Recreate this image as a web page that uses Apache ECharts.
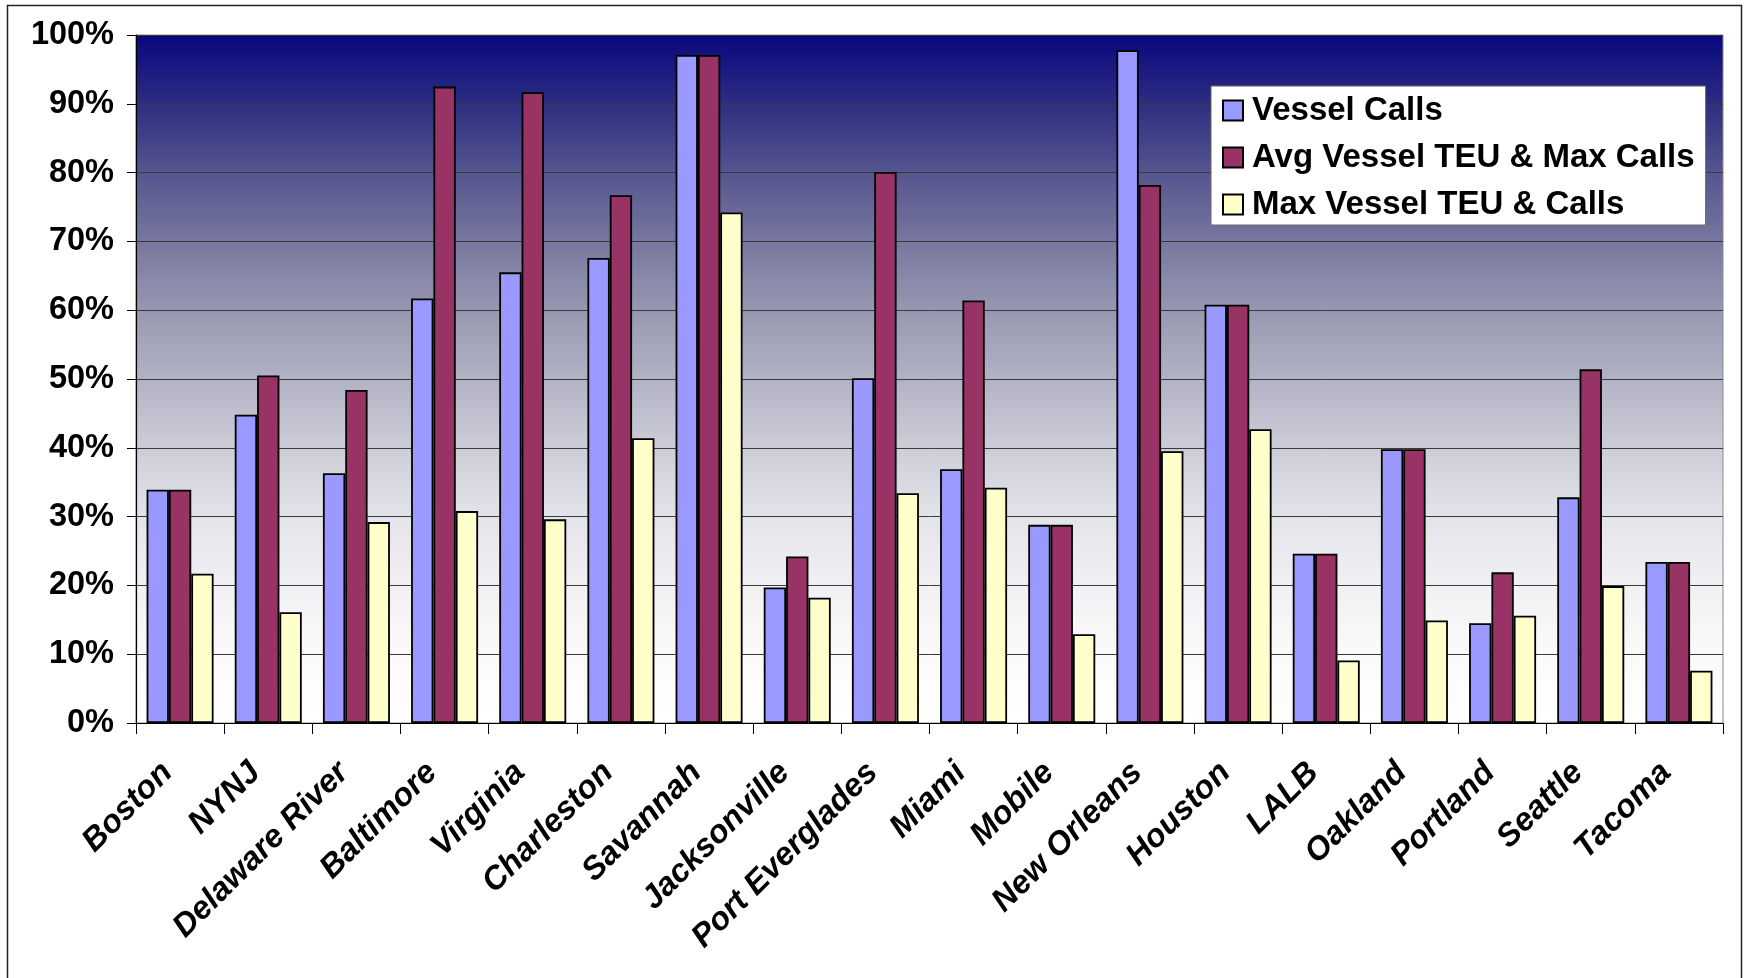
<!DOCTYPE html>
<html>
<head>
<meta charset="utf-8">
<title>Port shares</title>
<script src="https://cdn.jsdelivr.net/npm/echarts@6/dist/echarts.min.js"></script>
<style>
  html, body { margin: 0; padding: 0; background: #ffffff; }
  #chart { width: 1753px; height: 978px; }
</style>
</head>
<body>
<div id="chart"></div>
<script>
// Ports along the x axis
const ports = ['Boston', 'NYNJ', 'Delaware River', 'Baltimore', 'Virginia', 'Charleston',
  'Savannah', 'Jacksonville', 'Port Everglades', 'Miami', 'Mobile', 'New Orleans',
  'Houston', 'LALB', 'Oakland', 'Portland', 'Seattle', 'Tacoma'];

// Share per port, in percent
const vesselCalls = [33.9, 44.8, 36.3, 61.7, 65.5, 67.6, 97.1, 19.7, 50.1, 36.9, 28.8, 97.8,
  60.8, 24.6, 39.8, 14.5, 32.8, 23.4];
const avgTeuMaxCalls = [33.9, 50.5, 48.4, 92.5, 91.7, 76.7, 97.1, 24.2, 80.1, 61.4, 28.8, 78.2,
  60.8, 24.6, 39.8, 21.9, 51.4, 23.4];
const maxTeuCalls = [21.7, 16.1, 29.2, 30.8, 29.6, 41.4, 74.2, 18.2, 33.4, 34.2, 12.9, 39.5,
  42.7, 9.1, 14.9, 15.6, 19.9, 7.6];

const seriesNames = ['Vessel Calls', 'Avg Vessel TEU & Max Calls', 'Max Vessel TEU & Calls'];
const seriesColors = ['#9999ff', '#993366', '#ffffcc'];

const FONT = '"Liberation Sans", Arial, Helvetica, sans-serif';

const chart = echarts.init(document.getElementById('chart'), null, { renderer: 'canvas' });

function barSeries(name, data, color) {
  return {
    name: name,
    type: 'bar',
    data: data,
    barGap: '0%',
    barCategoryGap: '24%',
    itemStyle: { color: color, borderColor: '#000000', borderWidth: 1.8 },
    emphasis: { disabled: true }
  };
}

chart.setOption({
  animation: false,
  backgroundColor: '#ffffff',
  textStyle: { fontFamily: FONT },
  graphic: [{
    type: 'rect',
    z: -10,
    shape: { x: 7.5, y: 5.5, width: 1734, height: 1000 },
    style: { fill: null, stroke: '#222222', lineWidth: 1.5 }
  }],
  grid: {
    left: 136, right: 30, top: 35, bottom: 255,
    show: true,
    borderColor: '#8a8a8a',
    borderWidth: 1,
    backgroundColor: {
      type: 'linear', x: 0, y: 0, x2: 0, y2: 1,
      colorStops: [
        { offset: 0.00, color: '#07077e' },
        { offset: 0.10, color: '#2d2d82' },
        { offset: 0.20, color: '#55558f' },
        { offset: 0.30, color: '#77779f' },
        { offset: 0.40, color: '#9797b1' },
        { offset: 0.50, color: '#b2b2c5' },
        { offset: 0.60, color: '#cdcdd8' },
        { offset: 0.70, color: '#e3e3ea' },
        { offset: 0.80, color: '#f1f1f4' },
        { offset: 0.90, color: '#fafafa' },
        { offset: 1.00, color: '#ffffff' }
      ]
    }
  },
  legend: {
    orient: 'vertical',
    left: 1211, top: 86,
    padding: [8, 11, 4, 11],
    backgroundColor: '#ffffff',
    borderColor: '#666666',
    borderWidth: 1,
    itemWidth: 20, itemHeight: 20,
    itemGap: 14,
    icon: 'rect',
    selectedMode: false,
    textStyle: { fontFamily: FONT, fontWeight: 'bold', fontSize: 33, color: '#000000', padding: [0, 0, 0, 4] },
    data: seriesNames
  },
  xAxis: {
    type: 'category',
    data: ports,
    boundaryGap: true,
    axisLine: { lineStyle: { color: '#000000', width: 1.2 } },
    axisTick: { show: true, length: 11, lineStyle: { color: '#000000', width: 1 } },
    axisLabel: {
      interval: 0,
      rotate: 45,
      margin: 32,
      padding: [0, 18, 0, 0],
      fontFamily: FONT,
      fontWeight: 'bold',
      fontStyle: 'italic',
      fontSize: 32.5,
      color: '#000000'
    },
    splitLine: { show: false }
  },
  yAxis: {
    type: 'value',
    min: 0, max: 100, interval: 10,
    axisLine: { show: true, lineStyle: { color: '#000000', width: 1.2 } },
    axisTick: { show: true, length: 9, lineStyle: { color: '#000000' } },
    axisLabel: {
      formatter: '{value}%',
      margin: 22,
      fontFamily: FONT,
      fontWeight: 'bold',
      fontSize: 32.5,
      color: '#000000'
    },
    splitLine: { show: true, lineStyle: { color: '#3a3a3a', width: 1 } }
  },
  series: [
    barSeries(seriesNames[0], vesselCalls, seriesColors[0]),
    barSeries(seriesNames[1], avgTeuMaxCalls, seriesColors[1]),
    barSeries(seriesNames[2], maxTeuCalls, seriesColors[2])
  ]
});
</script>
</body>
</html>
